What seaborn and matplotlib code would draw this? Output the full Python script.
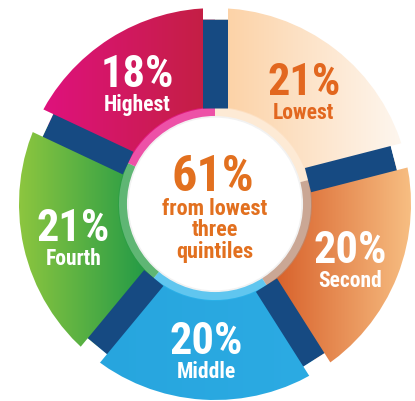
import numpy as np
import matplotlib
matplotlib.use('Agg')
import matplotlib.pyplot as plt
import seaborn as sns
from matplotlib.patches import Wedge, Circle

# ---- data ----
quintiles = ['Lowest', 'Second', 'Middle', 'Fourth', 'Highest']
shares = [21, 20, 20, 21, 18]
share_labels = ['21%', '20%', '20%', '21%', '18%']
center_value = '61%'
center_text = 'from lowest\nthree\nquintiles'

# ---- styling ----
grad_left = ['#fcd0a2', '#d65b25', '#27a5de', '#8dc63f', '#e0117f']
grad_right = ['#fef7f0', '#f7be82', '#2cabe3', '#1d9847', '#c22040']
band_colors = ['#fde3c8', '#b98a72', '#2bb3ea', '#2a9e45', '#e8178a']
text_colors = ['#e2671f', 'white', 'white', 'white', 'white']
navy = '#164a82'
orange = '#e2701f'

sns.set_theme(style='white')
plt.rcParams['font.family'] = ['Roboto Condensed', 'DejaVu Sans']

fig = plt.figure(figsize=(4.15, 4.02), dpi=100)
ax = fig.add_axes([0, 0, 1, 1])

# donut wedges from the data
wedges, _ = ax.pie(shares, startangle=90, counterclock=False, radius=1.0,
                   wedgeprops=dict(width=0.51, facecolor='none', edgecolor='none'))

gradient = np.linspace(0, 1, 256).reshape(1, -1)
for i, w in enumerate(wedges):
    cmap = sns.blend_palette([grad_left[i], grad_right[i]], as_cmap=True)
    bb = w.get_path().get_extents()
    im = ax.imshow(gradient, cmap=cmap, extent=(bb.x0, bb.x1, bb.y0, bb.y1),
                   aspect='auto', zorder=2, interpolation='bicubic')
    im.set_clip_path(w)
    # inner lighter band
    band = Wedge((0, 0), 0.495, w.theta1, w.theta2, width=0.055,
                 facecolor=band_colors[i], edgecolor='none', alpha=0.75, zorder=2.5)
    ax.add_patch(band)

    mid = np.deg2rad((w.theta1 + w.theta2) / 2)
    r = 0.74
    x, y = r * np.cos(mid), r * np.sin(mid)
    ax.text(x, y + 0.04, share_labels[i], ha='center', va='center',
            fontsize=32, fontweight='bold', color=text_colors[i], zorder=5)
    ax.text(x, y - 0.115, quintiles[i], ha='center', va='center',
            fontsize=15.5, fontweight='bold', color=text_colors[i], zorder=5)

# gaps between segments: navy inside the ring, white outside
bounds = 90 - 3.6 * np.cumsum([0] + shares[:-1])
for a in bounds:
    t = np.deg2rad(a)
    ax.plot([0.49 * np.cos(t), 0.942 * np.cos(t)], [0.49 * np.sin(t), 0.942 * np.sin(t)],
            color=navy, lw=18, solid_capstyle='butt', zorder=3)
    ax.plot([0.942 * np.cos(t), 1.05 * np.cos(t)], [0.942 * np.sin(t), 1.05 * np.sin(t)],
            color='white', lw=18, solid_capstyle='butt', zorder=3)

ax.add_patch(Circle((0, 0), 0.445, facecolor='white', edgecolor='#f2f2f2', lw=1.2, zorder=4))

ax.text(-0.01, 0.14, center_value, ha='center', va='center', fontsize=36,
        fontweight='bold', color=orange, zorder=5)
ax.text(0.0, -0.13, center_text, ha='center', va='center', fontsize=16,
        fontweight='bold', color=orange, linespacing=0.98, zorder=5)

ax.set_xlim(-215 / 196, 200 / 196)
ax.set_ylim(-197 / 196, 205 / 196)
ax.set_aspect('equal')
ax.axis('off')

fig.savefig('out.png', dpi=100)
